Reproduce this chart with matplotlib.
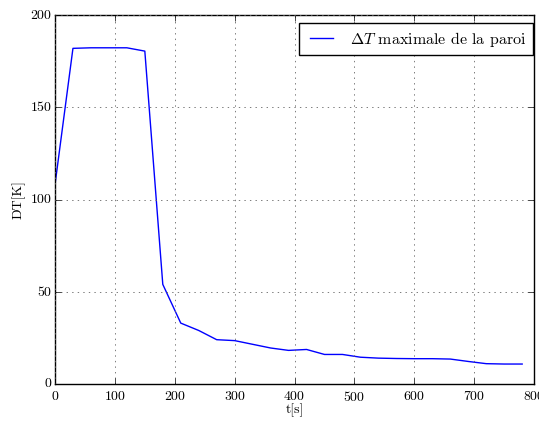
import numpy as np
import matplotlib
matplotlib.use('Agg')
import matplotlib.pyplot as plt

# temps (s) et DT maximal de la paroi (K)
temps = [0, 30, 60, 90, 120, 150, 180, 210, 240, 270, 300, 330, 360, 390,
         420, 450, 480, 510, 540, 570, 600, 630, 660, 690, 720, 750, 780]
dt_max = [108, 182, 182.3, 182.3, 182.3, 180.5, 54, 33, 29, 24, 23.5, 21.5,
          19.5, 18.2, 18.7, 16, 16, 14.5, 14, 13.8, 13.7, 13.7, 13.5, 12.2,
          11, 10.8, 10.8]

plt.style.use('classic')
plt.rcParams['font.family'] = 'serif'
plt.rcParams['font.serif'] = ['cmr10']
plt.rcParams['mathtext.fontset'] = 'cm'
plt.rcParams['axes.formatter.use_mathtext'] = True

fig = plt.figure(figsize=(5.39, 4.21), dpi=100, facecolor='white')
ax = fig.add_axes([0.102, 0.088, 0.889, 0.876])
ax.plot(temps, dt_max, 'b-', linewidth=1, label=r'$\Delta T$ maximale de la paroi')
ax.set_xlim(0, 800)
ax.set_ylim(0, 200)
ax.set_yticks([0, 50, 100, 150, 200])
ax.set_xlabel('t[s]', fontsize=10, labelpad=0)
ax.set_ylabel('DT[K]', fontsize=10, labelpad=3)
ax.tick_params(labelsize=10)
ax.tick_params(axis='y', pad=2)
ax.grid(True, color='0.4', linewidth=0.6)
ax.legend(loc='upper right', fontsize=11.5, fancybox=False,
          bbox_to_anchor=(1.014, 1.0))

fig.savefig('out.png', dpi=100, facecolor='white')
